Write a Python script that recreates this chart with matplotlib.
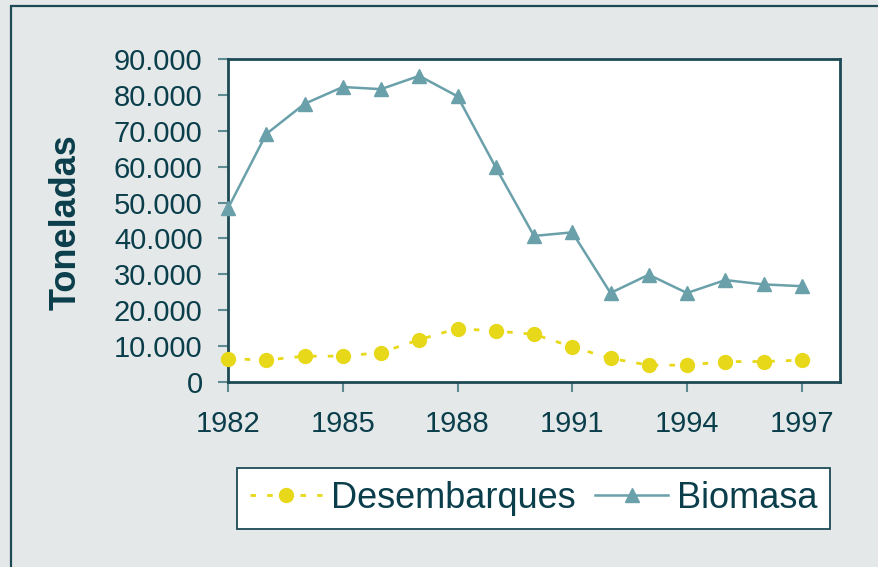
import matplotlib
matplotlib.use("Agg")
import matplotlib.pyplot as plt
from matplotlib.patches import Rectangle
from matplotlib.ticker import FuncFormatter

years = list(range(1982, 1998))
desembarques = [6500, 6100, 7200, 7200, 8200, 11800, 14900, 14200, 13300, 9800,
                6600, 4700, 4700, 5700, 5700, 6100]
biomasa = [48400, 69100, 77500, 82200, 81600, 85300, 79600, 59800, 40700, 41700,
           24800, 29900, 24800, 28400, 27200, 26700]
xticks = [1982, 1985, 1988, 1991, 1994, 1997]
yticks = list(range(0, 90001, 10000))

TEXT = "#0b3e4b"
BG = "#e4e8e9"
YEL = "#e8d81a"
TEAL = "#6aa0aa"
SPINE = "#1d4a55"
TICKC = "#5e8a92"

plt.rcParams['font.family'] = ['Liberation Sans', 'DejaVu Sans']

W, H = 879, 567
fig = plt.figure(figsize=(W / 100, H / 100), dpi=100)
fig.patch.set_facecolor(BG)

# outer frame (top and left edges visible)
fig.add_artist(Rectangle((11 / W, -0.1), 1.2, (H - 6) / H + 0.1, transform=fig.transFigure,
                         facecolor="none", edgecolor=SPINE, linewidth=1.6))

ax = fig.add_axes([228 / W, 1 - 382 / H, (840 - 228) / W, (382 - 59) / H])
ax.set_facecolor("white")

l1, = ax.plot(years, desembarques, color=YEL, linestyle=(0, (2, 4)), linewidth=2,
              marker="o", markersize=10, markerfacecolor=YEL, markeredgecolor=YEL,
              label="Desembarques", clip_on=False, zorder=3)
l2, = ax.plot(years, biomasa, color=TEAL, linestyle="-", linewidth=1.8,
              marker="^", markersize=10, markerfacecolor=TEAL, markeredgecolor=TEAL,
              label="Biomasa", clip_on=False, zorder=3)

ax.set_xlim(1982, 1998)
ax.set_ylim(0, 90000)
ax.set_xticks(xticks)
ax.set_yticks(yticks)
ax.yaxis.set_major_formatter(FuncFormatter(lambda v, p: f"{int(v):,}".replace(",", ".")))

for s in ax.spines.values():
    s.set_color(SPINE)
    s.set_linewidth(2)

ax.tick_params(axis="both", direction="out", length=7.2, width=1.5, color=TICKC,
               labelcolor=TEXT, labelsize=21)
ax.tick_params(axis="y", pad=11)
ax.tick_params(axis="x", pad=13)

fig.text(66 / W, 1 - 222 / H, "Toneladas", rotation=90, ha="center", va="center",
         fontsize=26, fontweight="bold", color=TEXT)

leg = fig.legend(handles=[l1, l2], loc="center", ncol=2,
                 bbox_to_anchor=((235 + 832) / 2 / W, 1 - (470 + 527) / 2 / H),
                 frameon=True, fancybox=False, fontsize=26, framealpha=1,
                 handlelength=2.0, handletextpad=0.25, columnspacing=0.55,
                 borderpad=0.35, borderaxespad=0)
leg.get_frame().set_edgecolor(SPINE)
leg.get_frame().set_linewidth(1.3)
leg.get_frame().set_facecolor("white")
for t in leg.get_texts():
    t.set_color(TEXT)

fig.savefig("out.png", dpi=100, facecolor=BG)
